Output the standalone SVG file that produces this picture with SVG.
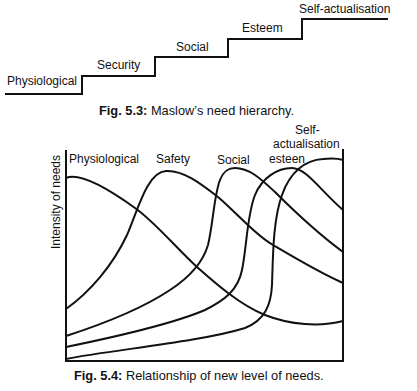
<svg xmlns="http://www.w3.org/2000/svg" width="417" height="391" viewBox="0 0 417 391">
<style>
text{font-family:"Liberation Sans",Arial,sans-serif;fill:#111;font-size:12px}
.cap{font-size:12.8px}
.b{font-weight:bold}
.ln{fill:none;stroke:#111;stroke-width:2;stroke-linejoin:miter}
.cv{fill:none;stroke:#111;stroke-width:2}
</style>
<rect width="417" height="391" fill="#fff"/>
<g id="fig53">
<path class="ln" d="M5,94 H82 V76 H155 V57 H228 V39 H302 V19 H388"/>
<text x="7" y="85">Physiological</text>
<text x="97" y="69">Security</text>
<text x="176" y="51">Social</text>
<text x="242" y="32">Esteem</text>
<text x="299" y="13">Self-actualisation</text>
<text class="cap" x="99" y="115"><tspan class="b">Fig. 5.3:</tspan> Maslow’s need hierarchy.</text>
</g>
<g id="fig54">
<path class="ln" d="M66,150 V361 H343 V149"/>
<text transform="translate(60,202) rotate(-90)" text-anchor="middle">Intensity of needs</text>
<g id="curves">
<path id="physiological" class="cv" d="M66,178 C80,172 110,190 135,208 C155,222 178,250 197,267 C215,283 240,305 265,315 C290,325 320,327 343,321"/>
<path id="safety" class="cv" d="M66,309 C90,292 113,265 127,235 C138,210 147,172 166,171 C183,170 200,183 218,197 C240,216 255,235 273,245 C295,258 320,273 343,283"/>
<path id="social" class="cv" d="M66,336 C100,325 140,310 170,290 C190,277 203,262 208,245 C213,225 214,195 220,180 C224,170 229,168 235,168 C250,168 262,180 275,192 C295,212 320,235 343,252"/>
<path id="esteem" class="cv" d="M66,347 C110,338 170,325 205,310 C225,300 238,290 242,270 C247,245 247,215 255,195 C262,178 277,168 292,168 C306,168 320,190 343,210"/>
<path id="selfact" class="cv" d="M66,359 C110,350 200,342 245,328 C265,320 271,305 272,285 C273,255 273,220 282,195 C290,172 305,160 323,159 C333,158 340,159 343,160"/>
</g>
<text x="69" y="163">Physiological</text>
<text x="156" y="163">Safety</text>
<text x="217" y="164">Social</text>
<text x="269" y="163">esteen</text>
<text x="295" y="134">Self-</text>
<text x="273" y="148">actualisation</text>
<text class="cap" x="74" y="380"><tspan class="b">Fig. 5.4:</tspan> Relationship of new level of needs.</text>
</g>
</svg>
